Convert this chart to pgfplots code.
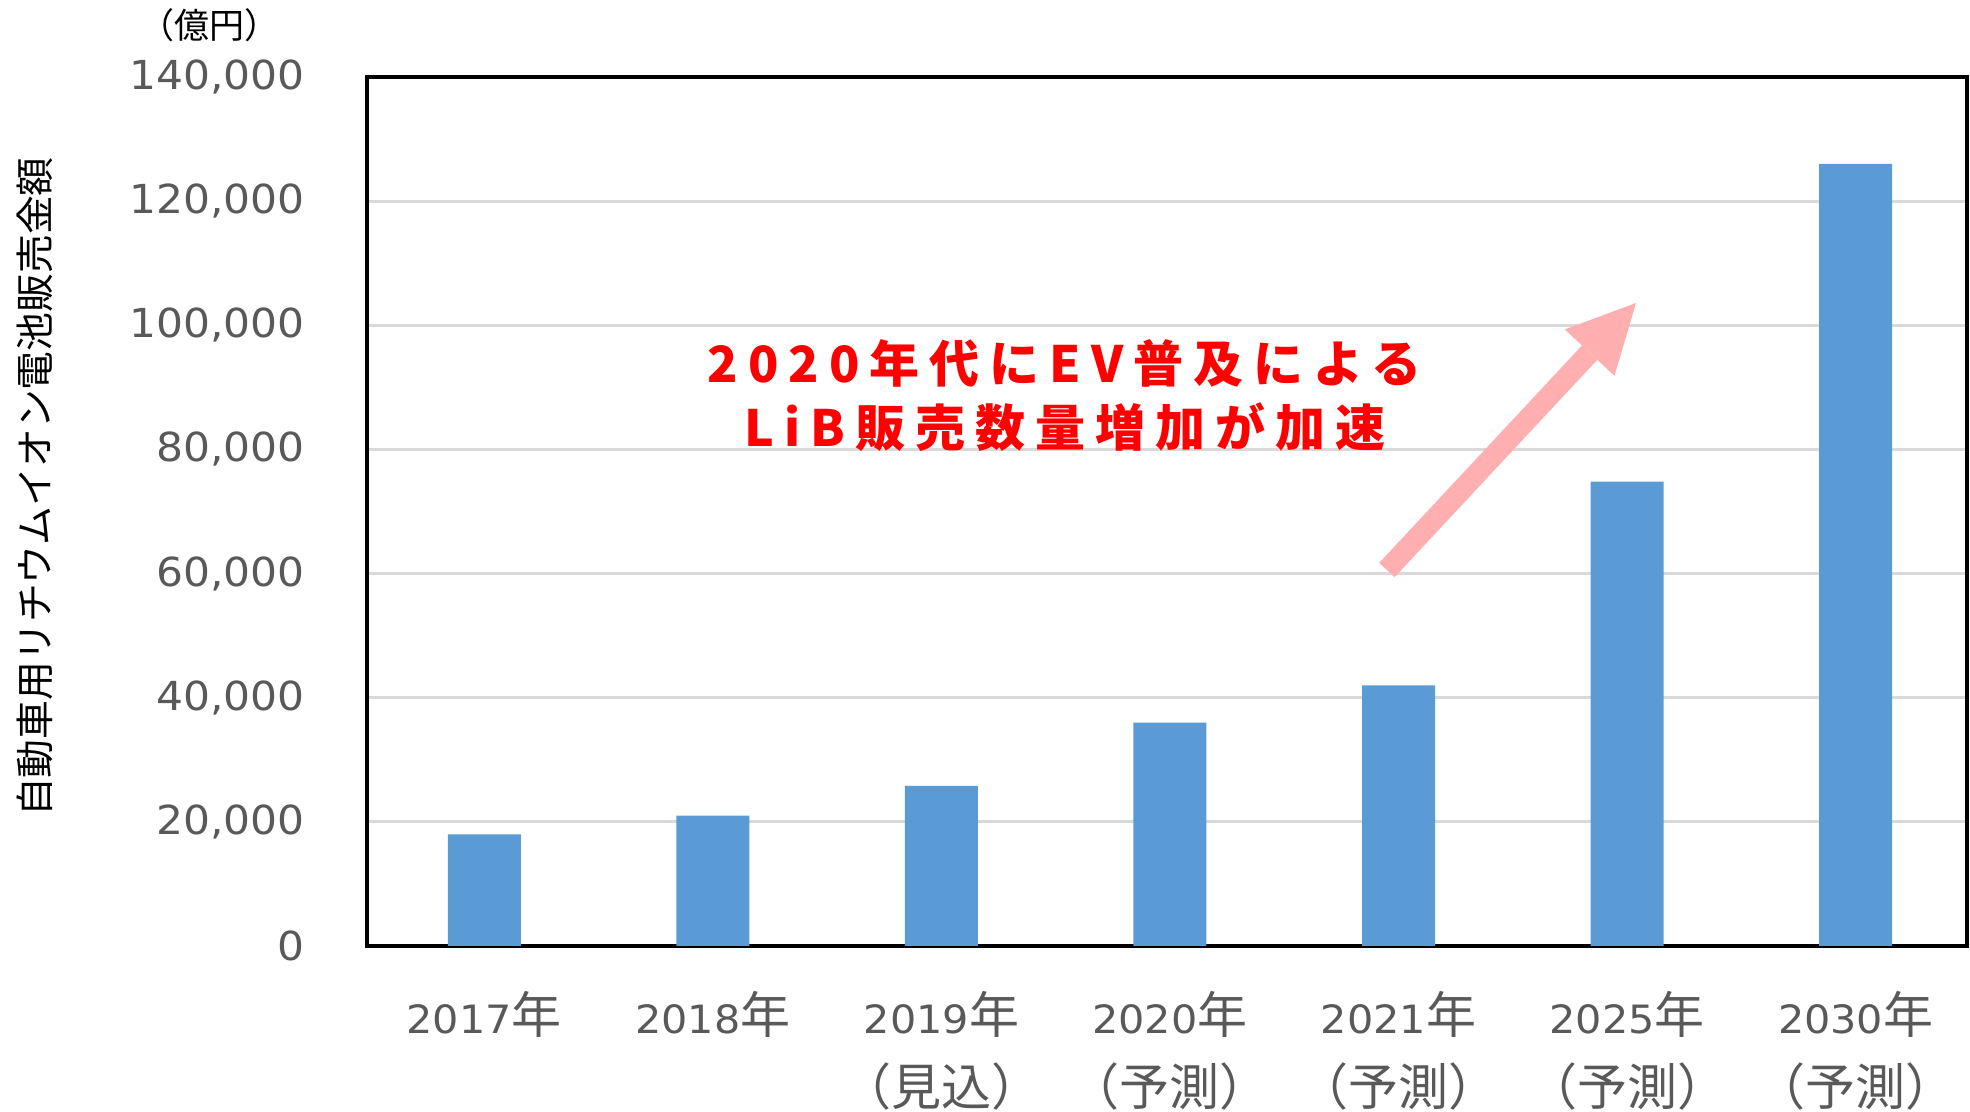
\documentclass[border=0pt]{standalone}
\usepackage{fontspec}
\setmainfont{DejaVu Sans}
\newfontfamily\tickfont{DejaVu Sans}[FakeStretch=1.06]
\newfontfamily\jp{Noto Sans CJK JP}
\newfontfamily\jpann{Noto Sans CJK JP}[LetterSpace=20]
\newcommand\dg[1]{\rule{0pt}{30pt}{\tickfont\fontsize{19.5}{36}\selectfont #1}}
\usepackage{pgfplots}
\pgfplotsset{compat=1.18}
\usetikzlibrary{arrows.meta}
\definecolor{barblue}{HTML}{5B9BD5}
\definecolor{tickgray}{HTML}{595959}
\definecolor{gridgray}{HTML}{D9D9D9}
\definecolor{arrowpink}{HTML}{FFAFAF}
\definecolor{annred}{HTML}{FF0000}
\begin{document}
\begin{tikzpicture}
\begin{axis}[
  at={(0,0)}, anchor=south west,
  scale only axis, width=800pt, height=434.5pt,
  xmin=-0.513, xmax=6.487, ymin=0, ymax=140000,
  xtick={0,1,2,3,4,5,6},
  xticklabels={{\dg{2017}年},{\dg{2018}年},{\dg{2019}年\\（見込）},{\dg{2020}年\\（予測）},{\dg{2021}年\\（予測）},{\dg{2025}年\\（予測）},{\dg{2030}年\\（予測）}},
  xticklabel style={align=center, font=\jp\fontsize{25}{36}\selectfont, text=tickgray, anchor=north, inner sep=0pt, yshift=-13.5pt},
  ytick={0,20000,40000,60000,80000,100000,120000,140000},
  scaled y ticks=false,
  yticklabel style={/pgf/number format/.cd, 1000 sep={,}, fixed, precision=0, assume math mode=true, /tikz/.cd, font=\tickfont\fontsize{20}{24}\selectfont, text=tickgray, anchor=east, inner sep=0pt, xshift=-31pt},
  ymajorgrids, grid style={gridgray, line width=1.5pt},
  axis line style={black, line width=2pt},
  major tick length=0pt, tick style={draw=none},
  ybar, bar width=36.5pt,
  clip=false,
  ylabel={\jp 自動車用リチウムイオン電池販売金額},
  ylabel style={at={(rel axis cs:-0.2075,0.528)}, anchor=center, font=\jp\fontsize{19.4}{23}\selectfont, text=black},
]
\addplot[fill=barblue, draw=none] coordinates {(0,18000) (1,21000) (2,25800) (3,36000) (4,42000) (5,74800) (6,126000)};
\node[font=\jp\fontsize{17.5}{20}\selectfont, text=black] at (rel axis cs:-0.0985,1.06) {（億円）};
\draw[arrowpink, line width=10.5pt, -{Triangle[width=34pt,length=34pt,line width=0pt]}] (axis cs:3.949,60570) -- (axis cs:5.039,103600);
\node[font=\jpann\bfseries\fontsize{25}{30}\selectfont, text=annred] at (axis cs:2.54,93800) {2020年代にEV普及による};
\node[font=\jpann\bfseries\fontsize{25}{30}\selectfont, text=annred] at (axis cs:2.54,83600) {LiB販売数量増加が加速};
\end{axis}
\pgfresetboundingbox
\path[use as bounding box] (-183.5pt,-83pt) rectangle (801.5pt,473pt);
\end{tikzpicture}
\end{document}
